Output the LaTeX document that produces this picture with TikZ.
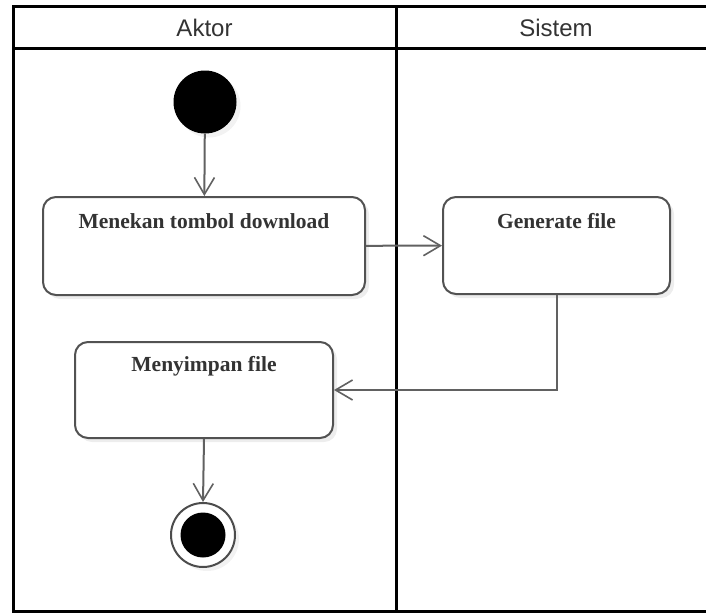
\documentclass[tikz,border=0pt]{standalone}
\usepackage{fontspec}
\setmainfont{Liberation Serif}
\newfontfamily\headfont{Liberation Sans}
\usetikzlibrary{arrows.meta,shadows,calc}

\tikzset{
  frameline/.style={line width=3pt, black},
  lanehead/.style={font=\headfont\fontsize{24}{28}\selectfont, text=black!80, inner sep=0pt},
  actbox/.style={draw=black!68, line width=2pt, rounded corners=13pt, fill=white,
    drop shadow={shadow xshift=4pt, shadow yshift=-4pt, fill=black, opacity=0.07}},
  actlabel/.style={font=\bfseries\fontsize{21.5}{26}\selectfont, text=black!80, inner sep=0pt},
  flow/.style={draw=black!62, line width=2pt,
    -{Straight Barb[length=17pt, width=20pt, line width=1.6pt]}},
  startdot/.style={circle, fill=black, minimum size=63pt, inner sep=0pt,
    drop shadow={shadow xshift=4pt, shadow yshift=-4pt, fill=black, opacity=0.05}},
  endring/.style={circle, draw=black!70, line width=2pt, fill=white, minimum size=64pt, inner sep=0pt,
    drop shadow={shadow xshift=4pt, shadow yshift=-4pt, fill=black, opacity=0.05}},
  enddot/.style={circle, fill=black, minimum size=45pt, inner sep=0pt},
}

\begin{document}
\begin{tikzpicture}[x=1pt, y=-1pt]
  \useasboundingbox (0,0) rectangle (706,613);
  \fill[white] (0,0) rectangle (706,613);

  % swimlane frame
  \draw[frameline] (706,6.5) -- (13.5,6.5) -- (13.5,611) -- (706,611);
  \draw[frameline] (13.5,48) -- (706,48);
  \draw[frameline] (396,6.5) -- (396,611);

  % lane titles
  \node[lanehead] (hAktor) at (204.5,28) {Aktor};
  \node[lanehead] (hSistem) at (556,28) {Sistem};

  % activity nodes (labels sit near the top edge)
  \node[startdot] (start) at (205,102) {};
  \node[actbox, minimum width=322pt, minimum height=98pt] (a1) at (204,246) {};
  \node[actlabel] (t1) at ($(a1.north)+(0,25)$) {Menekan tombol download};
  \node[actbox, minimum width=227pt, minimum height=97pt] (a2) at (556.5,245.5) {};
  \node[actlabel] (t2) at ($(a2.north)+(0,25)$) {Generate file};
  \node[actbox, minimum width=258pt, minimum height=96pt] (a3) at (204,390) {};
  \node[actlabel] (t3) at ($(a3.north)+(0,25)$) {Menyimpan file};
  \node[endring] (stop) at (203,535) {};
  \node[enddot] (stopdot) at (stop.center) {};

  % control flow
  \draw[flow] (start) -- (a1);
  \draw[flow] (a1) -- (a2);
  \draw[flow] (a2.south) |- (a3.east);
  \draw[flow] (a3.south) -- (stop.north);
\end{tikzpicture}
\end{document}
